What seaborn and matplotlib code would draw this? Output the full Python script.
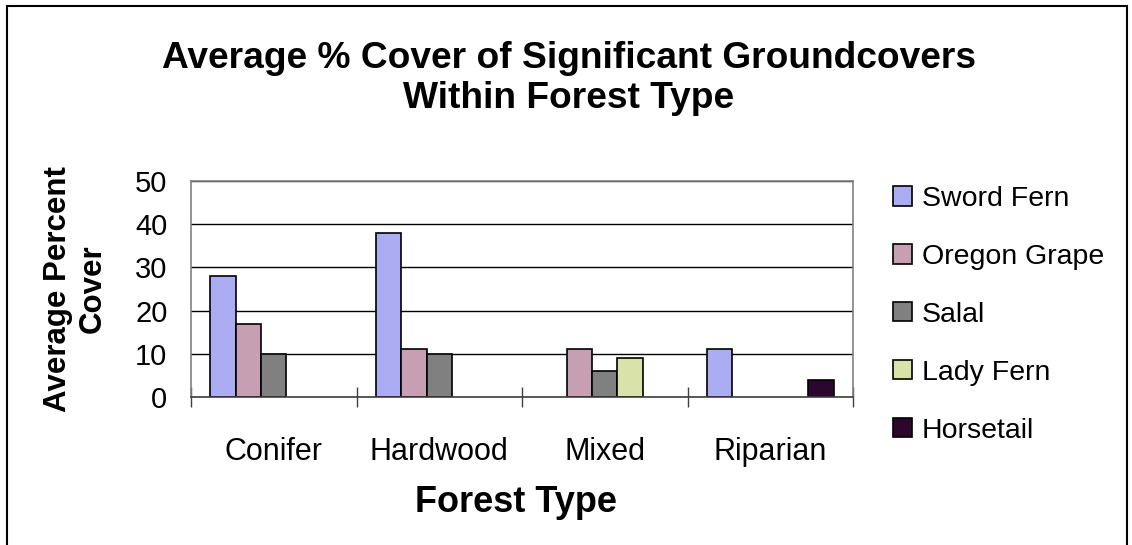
import matplotlib
matplotlib.use("Agg")
import matplotlib.pyplot as plt
from matplotlib.patches import Rectangle
import seaborn as sns
import pandas as pd

# ---- data ----
categories = ["Conifer", "Hardwood", "Mixed", "Riparian"]
species = ["Sword Fern", "Oregon Grape", "Salal", "Lady Fern", "Horsetail"]
sword_fern = [28, 38, None, 11]
oregon_grape = [17, 11, 11, None]
salal = [10, 10, 6, None]
lady_fern = [None, None, 9, None]
horsetail = [None, None, None, 4]
colors = ["#A0A0FF", "#CC99B3", "#808080", "#E0EBA0", "#330033"]
yticks = [0, 10, 20, 30, 40, 50]

series = [sword_fern, oregon_grape, salal, lady_fern, horsetail]
rows = []
for sp, vals in zip(species, series):
    for cat, v in zip(categories, vals):
        if v is not None:
            rows.append({"Forest Type": cat, "Species": sp, "Cover": v})
df = pd.DataFrame(rows)

sns.set_theme(style="white")
plt.rcParams["font.family"] = ["Liberation Sans", "DejaVu Sans"]
plt.rcParams["text.color"] = "black"
plt.rcParams["axes.labelcolor"] = "black"
plt.rcParams["xtick.color"] = "black"
plt.rcParams["ytick.color"] = "black"

W, H = 1132, 545
fig = plt.figure(figsize=(W / 100, H / 100), dpi=100)
ax = fig.add_axes([191 / W, 1 - 397 / H, (853 - 191) / W, (397 - 181) / H])

sns.barplot(data=df, x="Forest Type", y="Cover", hue="Species",
            order=categories, hue_order=species, palette=colors,
            edgecolor="black", linewidth=1.2, width=0.77, dodge=True,
            errorbar=None, ax=ax, legend=True)

ax.set_xlim(-0.5, 3.5)
ax.set_ylim(0, 50)
ax.set_yticks(yticks)
ax.yaxis.grid(True, color="black", linewidth=1)
ax.set_axisbelow(True)
for s in ["top", "right", "left"]:
    ax.spines[s].set_color("#808080")
    ax.spines[s].set_linewidth(1.2)
ax.spines["bottom"].set_color("#404040")
ax.spines["bottom"].set_linewidth(1.2)

ax.set_xticks([-0.5, 0.5, 1.5, 2.5, 3.5], minor=True)
ax.tick_params(axis="x", which="minor", direction="inout", length=14.4,
               width=1, color="#404040", bottom=True)
ax.tick_params(axis="x", which="major", length=0, pad=28.5, labelsize=22,
               labelcolor="black")
ax.tick_params(axis="y", which="major", length=0, pad=17, labelsize=21,
               labelcolor="black")

ax.set_xlabel("")
ax.set_ylabel("Average Percent\nCover", fontsize=22.5, fontweight="bold",
              color="black", linespacing=1.2)
ax.yaxis.set_label_coords((108 - 191) / (853 - 191), 0.5)

fig.text(516 / W, 1 - 512 / H, "Forest Type", fontsize=26, fontweight="bold",
         ha="center", va="baseline", color="black")

fig.text(569 / W, 1 - 41 / H,
         "Average % Cover of Significant Groundcovers\nWithin Forest Type",
         fontsize=26.7, fontweight="bold", ha="center", va="top",
         color="black", linespacing=1.2)

handles, labels = ax.get_legend_handles_labels()
ax.legend(handles, labels, loc="upper left",
          bbox_to_anchor=(893 / W, 1 - 186 / H), bbox_transform=fig.transFigure,
          frameon=False, fontsize=20.5, handlelength=0.67, handleheight=0.67,
          handletextpad=0.35, labelspacing=1.12, borderpad=0, borderaxespad=0)

fig.patches.append(Rectangle((7 / W, -0.05), (1127 - 7) / W, (545 - 6) / H + 0.05,
                             transform=fig.transFigure, fill=False,
                             edgecolor="black", linewidth=1.5))

fig.savefig("out.png", dpi=100, facecolor="white")
